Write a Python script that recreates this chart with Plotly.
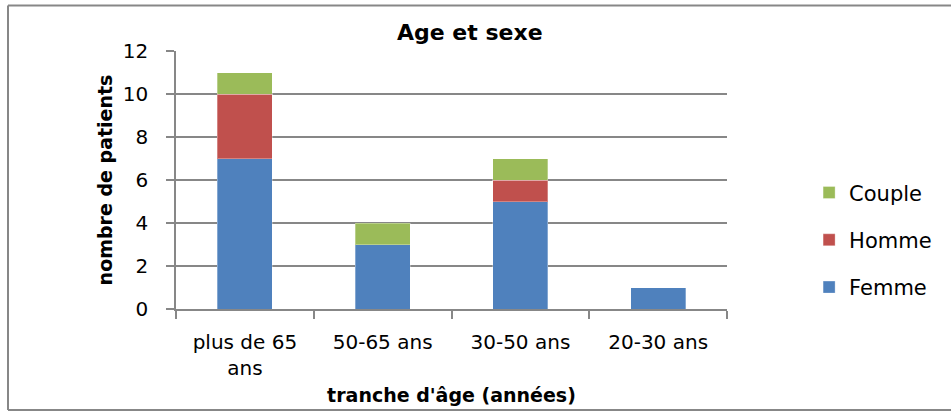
import plotly.graph_objects as go

categories = ["plus de 65<br>ans", "50-65 ans", "30-50 ans", "20-30 ans"]
femme = [7, 3, 5, 1]
homme = [3, 0, 1, 0]
couple = [1, 1, 1, 0]
y_ticks = [0, 2, 4, 6, 8, 10, 12]

# (name, values, colour, legend rank: top to bottom Couple, Homme, Femme)
series = [("Femme", femme, "#4F81BD", 3), ("Homme", homme, "#C0504D", 2), ("Couple", couple, "#9BBB59", 1)]

FONT = "DejaVu Sans"
GRAY = "#878787"

fig = go.Figure()
for name, vals, col, rank in series:
    fig.add_trace(go.Bar(x=categories, y=vals, name=name, legendgroup=name, legendrank=rank,
                         marker=dict(color=col, line=dict(width=1, color="rgba(255,255,255,0.3)"))))

fig.update_layout(
    width=951, height=412,
    margin=dict(l=176, r=224, t=51, b=103, autoexpand=False),
    paper_bgcolor="white", plot_bgcolor="white",
    barmode="stack", bargap=0.6,
    font=dict(family=FONT, size=20, color="#000000"),
    title=dict(text="<b>Age et sexe</b>", x=0.494, xref="container", xanchor="center",
               y=1 - 32 / 412, yref="container", yanchor="middle",
               font=dict(family=FONT, size=22, color="#000000")),
    legend=dict(x=1.149, xanchor="left", y=0.268, yanchor="middle",
                traceorder="grouped", tracegroupgap=17,
                font=dict(family=FONT, size=21, color="#000000"),
                bgcolor="rgba(0,0,0,0)"),
    showlegend=True,
)

fig.update_xaxes(
    type="category", showline=True, linecolor=GRAY, linewidth=1.5, automargin=False,
    ticks="outside", tickson="boundaries", ticklen=8, tickcolor=GRAY, tickwidth=1.5,
    showgrid=False, ticklabelstandoff=14,
    tickfont=dict(family=FONT, size=20, color="#000000"),
    title=dict(text="<b>tranche d'âge (années)</b>", standoff=10,
               font=dict(family=FONT, size=19, color="#000000")),
)
fig.update_yaxes(
    range=[0, 12], tickvals=y_ticks, showline=True, linecolor=GRAY, linewidth=1.5, automargin=False,
    ticks="outside", ticklen=8, tickcolor=GRAY, tickwidth=1.5,
    showgrid=True, gridcolor=GRAY, gridwidth=1.5, zeroline=False,
    ticklabelstandoff=14,
    tickfont=dict(family=FONT, size=20, color="#000000"),
    title=dict(text="<b>nombre de patients</b>", standoff=5,
               font=dict(family=FONT, size=19, color="#000000")),
)

# outer chart frame (left, top, bottom edges), in pixel terms of the page
W, H = 951, 412
L, R, T, B = 176, 224, 51, 103
pw, ph = W - L - R, H - T - B
def px(x):
    return (x - L) / pw
def py(y):
    return (H - B - y) / ph
frame = [(8, 5.5, 951, 5.5), (8, 5.5, 8, 410), (8, 410, 951, 410)]
for x0, y0, x1, y1 in frame:
    fig.add_shape(type="line", xref="paper", yref="paper",
                  x0=px(x0), y0=py(y0), x1=px(x1), y1=py(y1),
                  line=dict(color=GRAY, width=2), layer="below")

fig.write_html("out.html", config={"displayModeBar": False},
               post_script="document.body.style.margin='0';")
